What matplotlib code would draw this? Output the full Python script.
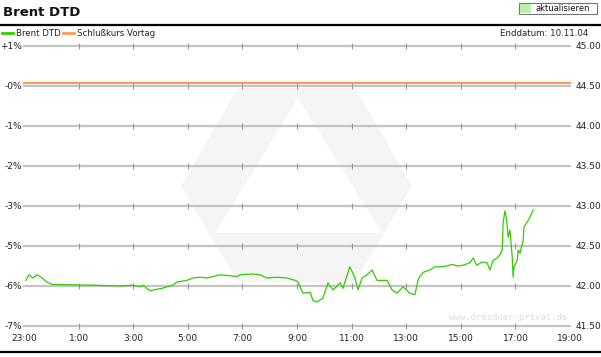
import matplotlib
matplotlib.use("Agg")
import matplotlib.pyplot as plt
from matplotlib.patches import Polygon, Rectangle
from matplotlib.lines import Line2D

# Brent DTD intraday quotes (time, USD)
times = ["23:04", "23:11", "23:20", "23:29", "23:40", "23:50", "0:02", "1:32", "2:31", "2:59",
         "3:15", "3:22", "3:30", "3:37", "3:52", "4:03", "4:14", "4:27", "4:36", "4:58",
         "5:11", "5:27", "5:42", "6:11", "6:48", "6:55", "7:23", "7:39", "7:54", "8:16",
         "8:38", "8:56", "9:02", "9:13", "9:29", "9:35", "9:44", "9:57", "10:08", "10:19",
         "10:35", "10:41", "10:56", "11:07", "11:14", "11:23", "11:34", "11:45", "11:56", "12:18",
         "12:29", "12:40", "12:53", "13:08", "13:19", "13:26", "13:29", "13:37", "13:52", "14:03",
         "14:14", "14:29", "14:41", "14:52", "15:05", "15:20", "15:27", "15:35", "15:47", "15:58",
         "16:04", "16:11", "16:20", "16:26", "16:31", "16:33", "16:37", "16:41", "16:44", "16:48",
         "16:53", "16:55", "16:57", "17:04", "17:06", "17:10", "17:17", "17:19", "17:25", "17:32",
         "17:39"]
prices = [42.07, 42.14, 42.10, 42.14, 42.10, 42.05, 42.02, 42.01, 42.00, 42.01,
          41.99, 42.01, 41.97, 41.94, 41.96, 41.97, 41.99, 42.01, 42.05, 42.07,
          42.10, 42.11, 42.10, 42.14, 42.12, 42.14, 42.15, 42.14, 42.10, 42.11,
          42.10, 42.07, 42.05, 41.91, 41.92, 41.82, 41.80, 41.85, 42.04, 41.95,
          42.04, 41.97, 42.24, 42.11, 41.95, 42.10, 42.14, 42.20, 42.07, 42.07,
          41.95, 41.91, 41.99, 41.91, 41.89, 42.07, 42.11, 42.17, 42.20, 42.24,
          42.24, 42.25, 42.27, 42.25, 42.26, 42.29, 42.35, 42.26, 42.30, 42.29,
          42.20, 42.32, 42.35, 42.39, 42.45, 42.79, 42.94, 42.82, 42.61, 42.70,
          42.36, 42.11, 42.24, 42.32, 42.45, 42.41, 42.57, 42.74, 42.79, 42.86,
          42.95]
prev_close = 44.54

price_levels = [45.00, 44.50, 44.00, 43.50, 43.00, 42.50, 42.00, 41.50]
pct_labels = ["+1%", "-0%", "-1%", "-2%", "-3%", "-5%", "-6%", "-7%"]
hour_labels = ["23:00", "1:00", "3:00", "5:00", "7:00", "9:00", "11:00", "13:00", "15:00", "17:00", "19:00"]

W, H = 601, 357
GREEN = "#33cc00"
ORANGE = "#ff9955"
FONT = "DejaVu Sans"


def to_hours(t):
    h, m = map(int, t.split(":"))
    return (h - 23) % 24 + m / 60


def px(x, y):
    # pixel position (from top-left) -> figure fraction
    return (x / W, 1 - y / H)


fig = plt.figure(figsize=(W / 100, H / 100), dpi=100)
fig.patch.set_facecolor("white")

# watermark logo (hexagon with triangle cut out), behind the axes
hexagon = [px(238, 88), px(355, 88), px(412, 186), px(355, 282), px(238, 282), px(181, 186)]
fig.patches.append(Polygon(hexagon, closed=True, transform=fig.transFigure,
                           facecolor="#f5f5f5", edgecolor="none", zorder=-2))
triangle = [px(298, 98), px(382, 233), px(215, 233)]
fig.patches.append(Polygon(triangle, closed=True, transform=fig.transFigure,
                           facecolor="white", edgecolor="none", zorder=-1))

ax = fig.add_axes([24 / W, 31 / H, 546 / W, 280 / H])
ax.set_zorder(1)
ax.patch.set_alpha(0)
for s in ax.spines.values():
    s.set_visible(False)

x_max = 20
ax.set_xlim(0, x_max)
ax.set_ylim(price_levels[-1], price_levels[0])

hour_pos = list(range(0, x_max + 1, 2))
for lvl in price_levels:
    ax.axhline(lvl, color="#c4c4c4", lw=1.6, zorder=1, clip_on=False)
    ax.plot(hour_pos[1:-1], [lvl] * (len(hour_pos) - 2), ls="none", marker="|",
            ms=4, mew=0.8, color="#999999", zorder=1, clip_on=False)

ax.axhline(prev_close, color=ORANGE, lw=1.6, zorder=2, clip_on=False)
ax.plot([to_hours(t) for t in times], prices, color=GREEN, lw=0.9, zorder=3)

ax.set_xticks(hour_pos, hour_labels)
ax.set_yticks(price_levels, pct_labels)
ax.tick_params(axis="both", length=0, labelsize=6.5, labelcolor="#222222")
ax.tick_params(axis="x", pad=6)
ax.tick_params(axis="y", pad=1.5)
for lab in ax.get_xticklabels() + ax.get_yticklabels():
    lab.set_family(FONT)

ax_r = ax.twinx()
ax_r.set_ylim(ax.get_ylim())
for s in ax_r.spines.values():
    s.set_visible(False)
ax_r.set_yticks(price_levels, [f"{v:.2f}" for v in price_levels])
ax_r.tick_params(axis="y", length=0, labelsize=6.5, labelcolor="#222222", pad=4)

# header
fig.text(*px(3, 12), "Brent DTD", fontsize=9.5, fontweight="bold", family=FONT,
         va="center", ha="left", color="#111111")
fig.lines.append(Line2D([0, 1], [px(0, 25)[1]] * 2, transform=fig.transFigure, color="black", lw=1.6))
fig.lines.append(Line2D([0, 1], [px(0, 352)[1]] * 2, transform=fig.transFigure, color="black", lw=1.6))

# update button
fig.patches.append(Rectangle(px(519, 14), 78 / W, 11 / H, transform=fig.transFigure,
                             facecolor="white", edgecolor="#777777", lw=0.8))
fig.patches.append(Rectangle(px(520, 13), 11 / W, 9 / H, transform=fig.transFigure,
                             facecolor="#bbeeaa", edgecolor="none"))
fig.text(*px(563, 8.5), "aktualisieren", fontsize=6, family=FONT, ha="center", va="center", color="#111111")

# legend row
fig.lines.append(Line2D([px(2, 0)[0], px(13, 0)[0]], [px(0, 33)[1]] * 2, transform=fig.transFigure, color=GREEN, lw=2))
fig.text(*px(16, 33), "Brent DTD", fontsize=6.2, family=FONT, va="center", color="#222222")
fig.lines.append(Line2D([px(63, 0)[0], px(74, 0)[0]], [px(0, 33)[1]] * 2, transform=fig.transFigure, color=ORANGE, lw=2))
fig.text(*px(77, 33), "Schlußkurs Vortag", fontsize=6.2, family=FONT, va="center", color="#222222")
fig.text(*px(588, 33), "Enddatum: 10.11.04", fontsize=6.2, family=FONT, va="center", ha="right", color="#222222")

# site watermark
fig.text(*px(567, 318), "www.dresdner-privat.de", fontsize=6.5, family="DejaVu Sans Mono",
         va="center", ha="right", color="#dddddd")

fig.savefig("out.png", dpi=100)
